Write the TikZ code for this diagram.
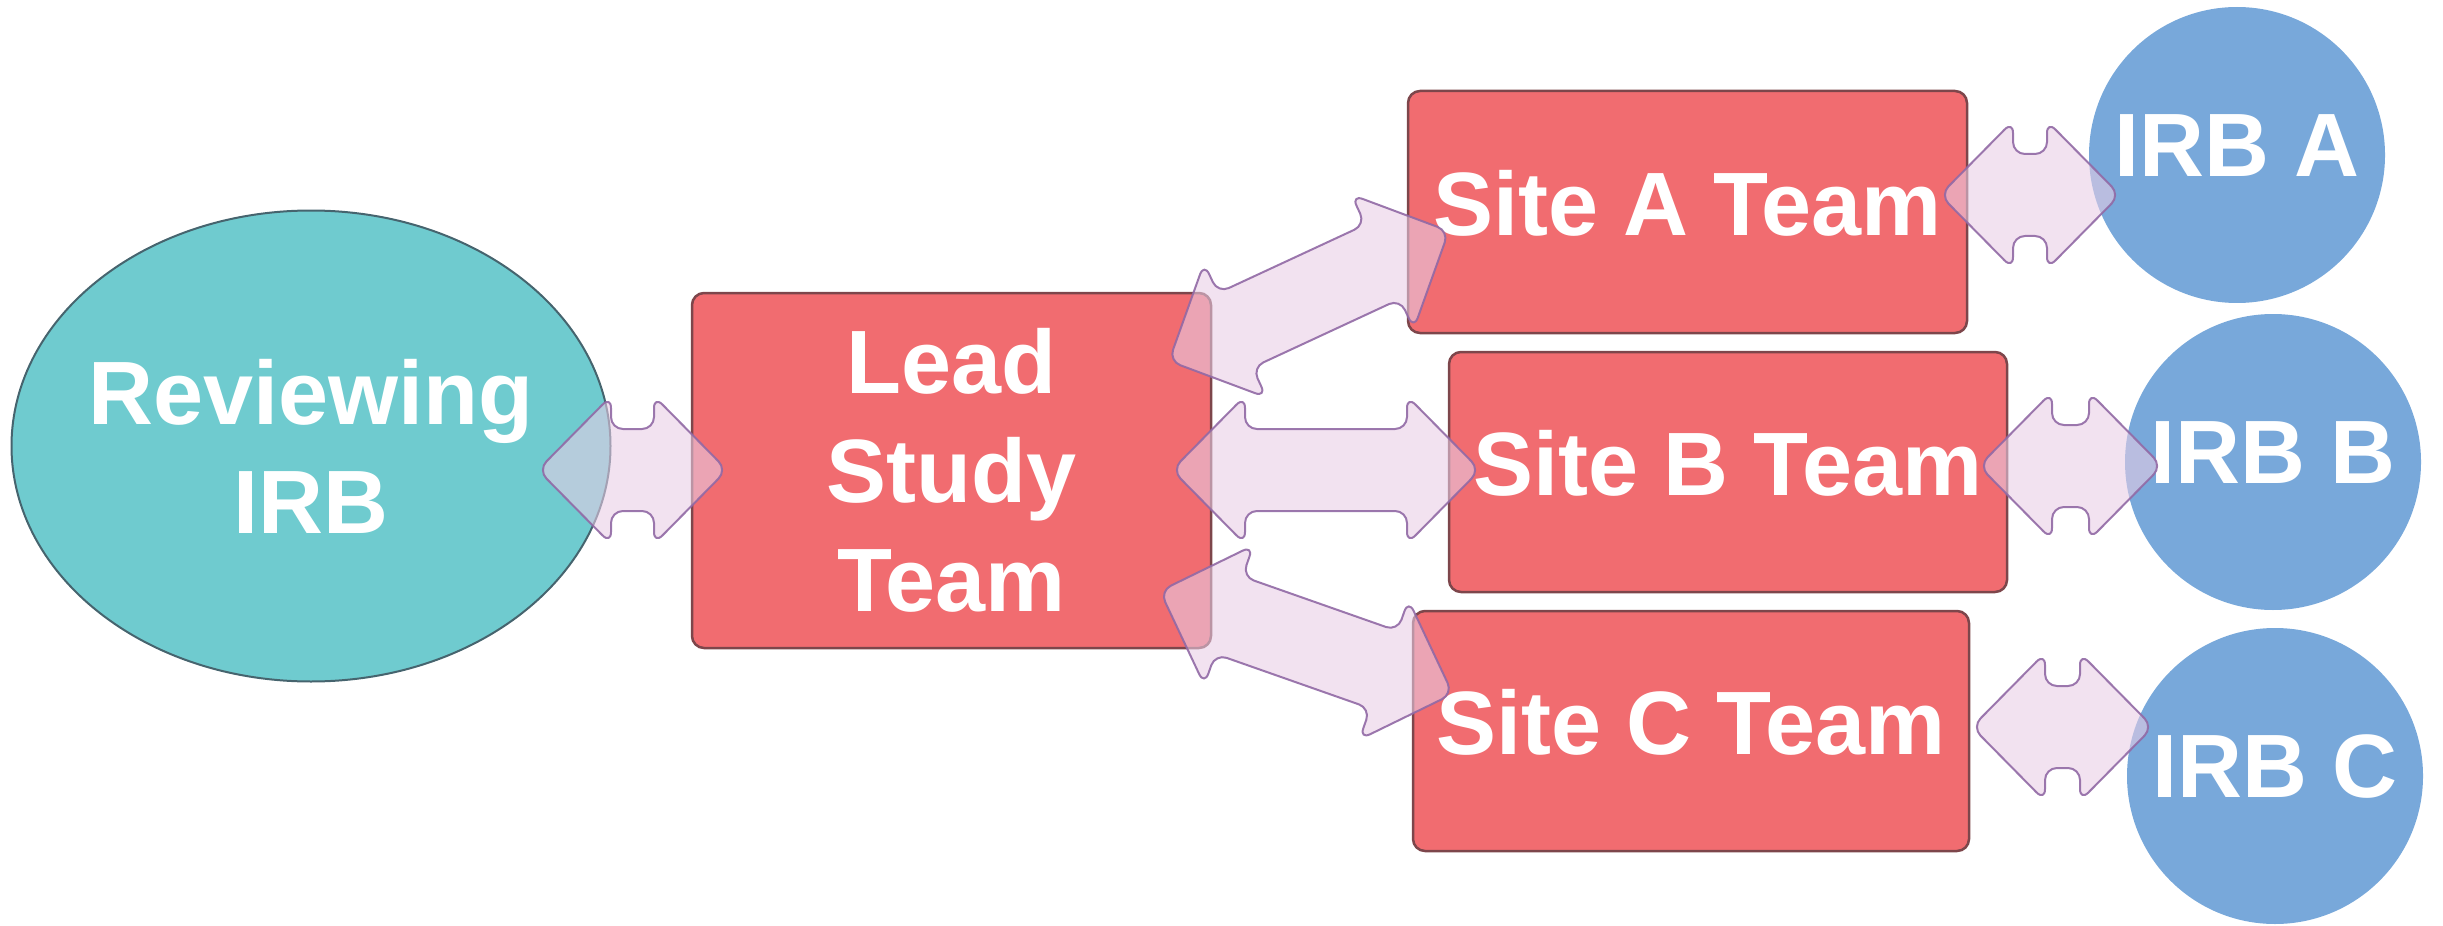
\documentclass[tikz,border=0pt]{standalone}
\usepackage{fontspec}
\setmainfont{Liberation Sans}
\usetikzlibrary{shapes.geometric,calc}

\definecolor{tealfill}{RGB}{111,203,207}
\definecolor{tealline}{RGB}{70,100,110}
\definecolor{teamfill}{RGB}{241,108,112}
\definecolor{teamline}{RGB}{125,70,75}
\definecolor{irbfill}{RGB}{120,168,218}
\definecolor{arrowfill}{RGB}{232,205,230}
\definecolor{arrowline}{RGB}{145,105,165}

% Block double arrow between two named points (tip to tip)
\newcommand\twoway[2]{%
  \path let \p1=(#1), \p2=(#2) in
    \pgfextra{%
      \pgfmathsetmacro\twAng{atan2(\y2-\y1,\x2-\x1)}%
      \pgfmathsetmacro\twLen{veclen(\x2-\x1,\y2-\y1)}%
      \global\let\twAngG\twAng
      \global\let\twLenG\twLen};
  \begin{scope}[shift={(#1)}, rotate=\twAngG]
    \draw[linkarrow] (0,0) -- (7.3mm,7.4mm) -- (7.3mm,4.1mm)
      -- ({\twLenG pt-7.3mm},4.1mm) -- ({\twLenG pt-7.3mm},7.4mm)
      -- (\twLenG pt,0)
      -- ({\twLenG pt-7.3mm},-7.4mm) -- ({\twLenG pt-7.3mm},-4.1mm)
      -- (7.3mm,-4.1mm) -- (7.3mm,-7.4mm) -- cycle;
  \end{scope}}

\begin{document}
\begin{tikzpicture}[x=0.1mm, y=-0.1mm,
  labeltext/.style={text=white, font=\fontsize{25.6pt}{31pt}\selectfont\bfseries, align=center},
  raised/.style={text depth=1.9mm},
  team/.style={rectangle, rounded corners=1.2mm, fill=teamfill, draw=teamline,
    line width=0.25mm, inner sep=0, labeltext},
  irb/.style={circle, fill=irbfill, inner sep=0, minimum size=29.6mm, labeltext, raised},
  reviewer/.style={ellipse, fill=tealfill, draw=tealline, line width=0.2mm,
    minimum width=59.9mm, minimum height=47.1mm, inner sep=0},
  linkarrow/.style={fill=arrowfill, fill opacity=0.58, draw=arrowline, draw opacity=0.9,
    line width=0.2mm, rounded corners=1.2mm, line join=round},
]
\useasboundingbox (0,0) rectangle (2443,926);

% Reviewing IRB
\node[reviewer] (rev) at (311,446) {};
\node[labeltext] (revtext) at (rev.center) {Reviewing\\IRB};

% Study teams
\node[team, minimum width=51.9mm, minimum height=35.5mm] (lead) at (951.5,470.5) {Lead\\Study\\Team};
\node[team, raised, minimum width=55.9mm, minimum height=24.2mm] (siteA) at (1687.5,212) {Site A Team};
\node[team, raised, minimum width=55.8mm, minimum height=24mm] (siteB) at (1728,472) {Site B Team};
\node[team, raised, minimum width=55.6mm, minimum height=24mm] (siteC) at (1691,731) {Site C Team};

% Local IRBs
\node[irb] (irbA) at (2237,155) {IRB A};
\node[irb] (irbB) at (2273,462) {IRB B};
\node[irb] (irbC) at (2275,776) {IRB C};

% Arrow tips
\coordinate (revTip)    at (538,470);
\coordinate (leadTipW)  at (727,470);
\coordinate (leadTipA)  at (1169,361);
\coordinate (siteATipW) at (1449,231);
\coordinate (leadTipB)  at (1172,470);
\coordinate (siteBTipW) at (1480,470);
\coordinate (leadTipC)  at (1160,591);
\coordinate (siteCTipW) at (1453,694);
\coordinate (siteATipE) at (1940,195);
\coordinate (irbATip)   at (2120,195);
\coordinate (siteBTipE) at (1979,466);
\coordinate (irbBTip)   at (2162,466);
\coordinate (siteCTipE) at (1972,727);
\coordinate (irbCTip)   at (2153,727);

% Two-way links
\twoway{revTip}{leadTipW}
\twoway{leadTipA}{siteATipW}
\twoway{leadTipB}{siteBTipW}
\twoway{leadTipC}{siteCTipW}
\twoway{siteATipE}{irbATip}
\twoway{siteBTipE}{irbBTip}
\twoway{siteCTipE}{irbCTip}
\end{tikzpicture}
\end{document}
